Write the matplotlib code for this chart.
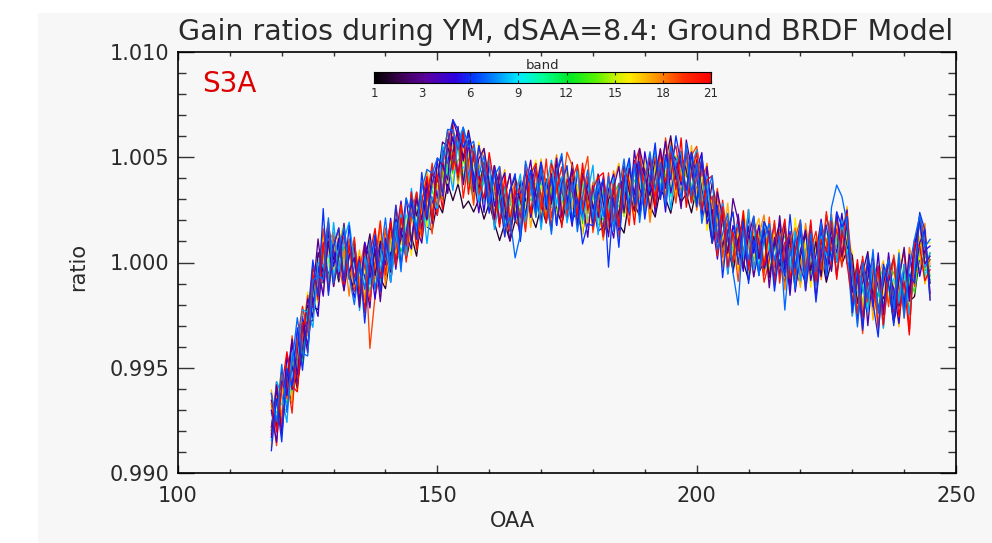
import numpy as np
import matplotlib
matplotlib.use("Agg")
import matplotlib.pyplot as plt
from matplotlib.colors import LinearSegmentedColormap
from matplotlib.patches import Rectangle
from matplotlib.ticker import MultipleLocator, FormatStrFormatter

# OAA sample positions (deg)
oaa = list(range(118, 246))

# Common gain-ratio shape, deviation from 1 in units of 1e-4
center = [
    -75, -71, -66, -60, -54, -47, -40, -30, -18, -8, 0, 2, 3, 2, 1, 0,
    -4, -10, -8, -4, -3, -1, 2, 5, 8, 10, 13, 16, 19, 22, 25, 28,
    32, 38, 44, 47, 47, 45, 42, 40, 38, 35, 33, 30, 28, 25, 23, 23,
    26, 29, 31, 31, 30, 30, 31, 32, 31, 30, 30, 29, 28, 28, 27, 26,
    25, 25, 26, 28, 30, 32, 34, 35, 35, 35, 36, 38, 40, 41, 41, 40,
    39, 38, 36, 33, 28, 22, 16, 12, 9, 8, 7, 7, 6, 6, 5, 5,
    4, 4, 3, 3, 2, 2, 1, 1, 1, 2, 3, 5, 7, 8, 9, 9,
    -11, -13, -13, -14, -13, -13, -12, -13, -14, -13, -12, -12, -5, 3, 1, -5,
]
center_unit = 1e-4

# Per-band departures from the common shape, in units of 1.6e-4
dev_unit = 1.6e-4
dev_01 = [
    -3, 5, -6, 2, -8, 1, -4, 6, -2, -9, 3, -5, 0, -7, 4, -3,
    -6, 2, -8, -1, 5, -4, -9, 0, -3, 3, -7, -2, -10, 1, -5, -8,
    -2, -9, -4, -11, -6, -12, -8, -10, -5, -9, -3, -7, -11, -4, -8, -2,
    -6, 1, -5, -9, -2, -7, 3, -4, -8, 0, -6, -3, -9, 2, -5, -1,
    -7, -3, 2, -6, -10, -1, -4, -8, 1, -5, -9, -2, -6, -11, -3, -7,
    -4, -9, 0, -6, -2, -8, 3, -5, -1, -7, 2, -4, -9, 1, -6, -3,
    4, -5, -1, -8, 2, -3, -7, 5, -2, -6, 1, -9, -4, 3, -6, -2,
    -5, 2, -8, -1, 4, -6, -3, 1, -9, -2, 5, -4, -7, 0, -3, 2,
]
dev_02 = [
    6, -4, 9, -2, 3, -8, 5, 1, -6, 8, -3, 10, -1, 4, -7, 2,
    9, -3, 5, 11, -2, 7, 1, -6, 8, 3, -4, 10, 2, 6, -3, 9,
    4, 12, 7, -1, 9, 3, 13, 6, -2, 8, 1, 10, 5, -3, 7, 11,
    2, -5, 8, 1, -7, 6, -2, 9, 3, -6, 11, 0, -4, 7, -1, 5,
    -8, 3, 6, -4, 10, 1, -6, 8, 4, -2, 9, -5, 5, 12, -1, 7,
    3, -6, 8, 1, -4, 10, 5, -3, 7, -8, 2, 9, -5, 4, -2, 6,
    -7, 3, 10, -4, 6, -9, 1, 8, -3, 5, -6, 11, 2, -5, 7, -1,
    9, -4, 5, 12, -2, 7, -8, 3, 10, -5, 6, -1, 8, 12, 4, -3,
]
dev_03 = [
    -5, 8, -10, 3, 11, -4, 7, -8, 2, 12, -6, 5, -9, 1, 9, -3,
    4, -7, 10, -2, 6, -11, 3, 8, -5, 1, 11, -4, 7, -1, 9, -6,
    11, 5, -3, 13, 8, 2, 10, -4, 7, 12, 3, -6, 9, 1, -8, 5,
    -9, 4, 11, -3, 7, 0, -10, 6, 12, -2, 5, -7, 9, 3, -5, 10,
    2, -8, 6, 11, -4, 8, -1, 12, 5, -6, 3, 10, -3, 7, 1, -9,
    12, 4, -5, 9, 2, -8, 11, 6, -3, 14, 8, -6, 4, 10, -2, 7,
    -10, 5, -3, 9, -8, 2, 11, -5, 7, -12, 4, 1, -7, 10, -4, 6,
    -2, 8, -11, 4, 10, -6, 1, 9, -9, 3, 12, -4, 7, 11, -1, 5,
]
dev_04 = [
    3, -9, 6, -2, 10, -7, -1, 8, -5, 4, -10, 7, 2, -6, 11, -3,
    -8, 5, 1, -11, 9, -4, 6, -9, 2, 12, -5, 8, -2, -8, 4, 10,
    -1, 7, -7, 3, 11, -5, 9, 1, -9, 6, -3, 10, -6, 4, 12, -2,
    8, -4, 2, 10, -8, 5, -1, 11, -6, 3, 9, -7, 1, -10, 6, -3,
    10, -2, -9, 4, 7, -6, 12, 0, -4, 9, -8, 3, 11, -5, 2, 8,
    -6, 9, 3, -7, 11, -1, -9, 6, 2, -5, 10, -3, 7, -8, 1, 9,
    5, -8, 12, -3, 8, -10, 3, 9, -6, 1, 11, -4, 6, -9, 2, 10,
    -7, 3, 9, -10, 6, 1, -8, 11, -3, 7, -5, 10, -2, 4, 9, -6,
]
dev_05 = [
    -2, 7, -8, 10, -4, 3, 9, -6, 1, -11, 5, 8, -3, 6, -9, 2,
    7, -5, 11, 3, -9, 6, -2, 10, -7, 4, 0, -6, 9, -4, 7, 1,
    -6, 10, 2, 8, -4, 12, -1, 7, 3, -7, 9, -2, 5, 11, -5, 6,
    4, 9, -6, 2, 11, -3, 7, -9, 5, 1, -8, 10, -4, 6, 0, -7,
    -5, 6, 10, -8, 3, -3, 9, -7, 11, 2, -6, 4, -10, 7, 5, -2,
    8, -3, 5, 12, -6, 2, -4, 9, -9, 6, 1, -7, 10, -1, 8, -5,
    1, 9, -6, 4, -11, 7, -2, -7, 10, -4, 8, -8, 3, -2, 9, -6,
    6, -9, 2, 8, -5, 11, -7, 4, 1, -10, 7, -3, 10, -6, 3, 8,
]
dev_06 = [
    -9, 4, -12, 6, -3, 10, -7, 2, 12, -5, 16, -11, 3, 9, -6, 11,
    -4, 7, -13, 2, 10, -8, 5, -3, 12, -7, 1, 9, -5, 13, -2, 6,
    10, -4, 8, 13, 10, 6, 12, -2, 11, 4, -6, 9, 2, -8, 7, 12,
    -10, 3, 8, -5, 11, -2, 6, -9, 4, 10, -7, 1, -12, -6, -6, 5,
    9, -17, 3, -13, 6, 11, -4, 8, -9, 2, 13, -5, 7, -1, 12, 4,
    -3, 9, -6, 11, 2, -8, 7, -12, 4, 10, -5, 8, -10, 3, -7, 9,
    6, -11, 2, -6, 13, -3, 9, -9, 5, -13, 1, 8, -4, 10, 5, 8,
    -8, 5, -12, 11, -4, -14, 7, 2, -10, 9, -6, 4, -3, 13, 9, -8,
]
dev_07 = [
    8, -3, 11, -7, 4, 13, -2, -9, 6, 1, -5, 12, -8, 3, 10, -4,
    -10, 6, -3, 9, -6, 2, 12, -5, 7, -9, 11, 4, -1, 8, 12, 9,
    11, 6, 12, 10, 4, 12, 8, 11, 2, 10, -3, 7, 11, -5, -1, -13,
    -8, 12, 4, -6, 9, 1, -11, 7, 13, -3, 5, -9, 2, 10, -4, 8,
    -2, 10, -7, 4, 12, -5, 8, -10, 3, 11, -1, 6, -8, 9, 2, -6,
    11, -4, 7, -9, 3, 12, -6, 1, 9, -8, -17, 5, -3, 10, -7, 4,
    9, -2, 6, -16, 3, -9, 12, -6, 8, -4, 10, -7, 12, 18, 14, 6,
    4, -11, 8, -2, 12, -7, 3, 9, -5, 11, -9, 6, 10, 12, 4, 10,
]
dev_08 = [
    -6, 9, 2, -10, 7, -3, 11, 4, -8, 5, -1, -7, 10, -4, 6, 12,
    3, -8, 7, -4, 11, -2, 5, -9, 1, 8, -6, 12, -3, 6, -10, 2,
    -4, 11, 3, -8, 7, 12, -2, 9, -6, 4, 10, -9, 1, 7, -3, 5,
    10, -6, 2, 8, -9, 4, 11, -3, 6, -7, 1, 9, -5, 3, 12, -8,
    5, -1, 9, -7, 2, 10, -4, 7, -8, 3, 11, -2, 6, -10, 4, 8,
    -7, 5, 11, -2, 8, -5, 1, 10, -9, 4, 7, -3, 12, -6, 2, 9,
    3, -9, 5, 10, -4, 8, -6, 2, 11, -8, 6, -1, 9, -5, 7, -3,
    -9, 6, 1, -6, 8, 3, -12, 5, 10, -4, 7, -8, 2, 11, -2, 6,
]
dev_09 = [
    2, -4, 5, -1, 3, -6, 4, 0, -3, 6, -2, 1, -5, 3, -1, 4,
    -3, 5, -2, 4, -6, 1, 3, -4, 6, -1, 2, -5, 4, 0, -3, 5,
    1, -4, 3, 6, -2, 0, 4, -5, 2, -3, 5, -1, 3, -4, 6, -2,
    4, -2, 5, -5, 1, 3, -3, 6, -1, 2, -6, 4, 0, -2, 5, -4,
    -1, 3, -4, 5, 2, -3, 6, -2, 1, -5, 4, 0, -3, 5, -1, 2,
    5, -3, 1, 4, -5, 2, -1, 6, -4, 3, 0, -2, 5, -6, 2, 4,
    -2, 4, -5, 1, 3, -3, 6, -1, 2, -4, 5, 0, -6, 3, 1, -3,
    3, -1, 4, -6, 2, 5, -2, 0, 4, -3, 6, -5, 1, 3, -4, 2,
]
dev_10 = [
    -4, 3, -1, 6, -5, 2, 4, -3, 1, -6, 5, -2, 3, 0, -4, 6,
    5, -2, 4, -6, 1, 3, -1, 5, -4, 2, 6, -3, 0, 4, -5, 1,
    -3, 6, -2, 1, 4, -5, 3, 0, -4, 5, -1, 2, -6, 4, 1, -2,
    2, -5, 3, 4, -1, 6, -3, 1, 5, -4, 2, -2, 6, -5, 0, 3,
    4, 1, -5, 2, 6, -2, 0, -4, 3, 5, -3, 1, 4, -6, 2, -1,
    -5, 3, 2, -3, 5, 0, -4, 4, 1, -2, 6, -5, 3, 2, -4, 5,
    1, -6, 4, 2, -2, 5, -5, 3, 0, 6, -3, 2, 4, -4, 1, -2,
    6, 2, -4, 3, -1, 4, -6, 5, -2, 1, 3, -3, 5, 0, -5, 4,
]
dev_11 = [
    3, 0, -5, 2, 6, -3, -1, 5, -4, 2, 4, -6, 1, 3, -2, -5,
    -1, 4, 6, -3, 2, -5, 5, 1, -2, -6, 3, 4, -4, 2, 6, -3,
    5, -2, 1, 4, -6, 3, -3, 6, 0, -4, 2, 5, -1, -5, 3, 1,
    -6, 4, -1, 2, 5, -4, 1, -2, 6, 3, -5, 0, 4, -3, 2, 6,
    2, -5, 3, -1, 4, 6, -3, 2, -6, 1, 5, -2, 0, 3, -4, 5,
    -2, 6, -4, 5, 1, -3, 3, -6, 4, 2, -1, 5, -5, 0, 6, -3,
    4, -1, 2, -5, 6, 0, -4, 4, -2, 3, -6, 1, 5, -3, 2, 6,
    -5, 3, 5, 1, -4, 2, 6, -3, 0, 4, -2, -6, 3, 5, -1, -2,
]
dev_12 = [
    -2, 5, 1, -4, 3, 6, -5, 2, 4, -1, -6, 3, 5, -3, 1, 2,
    6, -4, 1, 3, -2, 5, -6, 2, 4, -3, 0, 6, -1, -5, 3, 4,
    -4, 2, 6, -3, 1, 4, -2, -6, 5, 3, -1, 0, 4, 6, -5, 2,
    3, 5, -4, 1, -2, 6, 2, -5, 0, 4, -3, 5, -6, 1, 3, -1,
    -3, 1, 4, 6, -5, 0, 3, 5, -2, -4, 6, 2, -1, 4, -6, 3,
    4, -2, -6, 2, 3, 5, -4, 0, 6, -1, 3, -5, 2, 4, 1, -6,
    -1, 5, 3, -4, -2, 4, 1, -3, 6, -5, 2, 4, -2, 0, 5, 3,
    2, -6, 0, 5, 3, -2, 4, 1, -5, 6, -3, 2, 5, -4, 1, 4,
]
dev_13 = [
    5, 2, -3, -6, 4, 1, 3, -2, 6, -4, 2, 5, -5, 0, 4, -3,
    -2, 3, 5, -4, -1, 6, 2, -3, 4, 1, -5, 3, 6, -2, 0, 5,
    3, -5, 2, 0, 5, -3, 6, 1, -4, 2, 4, -6, 3, -1, 5, 4,
    -1, 4, 6, -3, 2, -5, 4, 3, -2, 5, 1, -4, 6, 2, -6, 0,
    6, -4, 1, 3, -2, 5, -1, -5, 4, 2, -3, 6, 1, -4, 3, 5,
    1, 3, -5, 4, 6, -2, 5, -3, 2, -6, 4, 0, -3, 5, -1, 3,
    -5, 2, 4, 6, -3, 1, -2, 5, -4, 3, 6, -5, 2, 4, -3, 1,
    4, -3, 2, -4, 5, 1, -5, 3, 6, -2, 0, 4, -6, 2, 5, -1,
]
dev_14 = [
    -3, 6, 4, -2, -5, 3, 1, 5, -4, 2, 6, -1, 0, -6, 3, 5,
    2, 0, -5, 6, 3, -4, 4, 1, -6, 5, 2, -2, 3, 5, -4, -1,
    6, 3, -1, 5, -4, 2, 5, -3, 1, 6, -5, 4, 2, 0, -3, 6,
    1, -3, 5, 4, -6, 0, 3, 5, -4, 2, 6, -1, -3, 4, 1, -5,
    -4, 5, 2, -6, 1, 4, -3, 6, 2, -1, 0, 5, -5, 3, 6, -2,
    3, -1, 6, 0, -4, 5, 2, -5, 3, 4, -2, 6, 1, -3, 4, -4,
    5, 3, -2, 1, 4, -6, 3, 0, 5, -2, -4, 3, 6, 1, -5, 4,
    -2, 4, 6, -1, -3, 5, 2, -4, 3, 0, 5, -6, 4, 2, -3, 6,
]
dev_15 = [
    4, -2, 3, 5, -1, -4, 6, -3, 2, 4, -5, 1, 6, -2, 0, 3,
    -5, 2, 4, 0, -3, 5, 1, 6, -2, 3, -4, 5, 2, -6, 4, 1,
    2, 5, -4, 3, 6, -1, 2, 4, -3, 5, 0, -2, 6, 3, -4, 1,
    5, -1, 2, -6, 4, 3, -2, 5, 1, -4, 6, 2, -3, 0, 5, -2,
    1, 6, -3, 4, -5, 2, 5, -1, 3, 6, -4, 0, 2, 5, -3, 4,
    -3, 4, 1, 5, 2, -6, 3, 6, -1, 0, 4, -4, 5, 2, -2, 6,
    2, -4, 6, -1, 5, 3, -3, 1, 4, -5, 2, 6, 0, -2, 4, -1,
    5, 1, -3, 4, 2, -5, 6, -1, 3, 4, -4, 1, 2, 6, 0, -3,
]
dev_16 = [
    -7, 4, 9, -3, 6, -9, 2, 10, -5, 3, 8, -2, -8, 5, 11, -4,
    6, -6, 2, 10, -4, 8, -7, 3, 11, -1, 5, -8, 9, 1, -5, 7,
    -2, 9, 4, -6, 10, 2, 7, -4, 12, 5, -3, 8, 1, -7, 6, 3,
    9, -3, 6, 11, -5, 2, 8, -7, 4, 10, -2, 5, -9, 7, 1, -4,
    -6, 8, 1, -3, 10, 5, -8, 3, 9, -5, 7, -1, 11, 2, -6, 6,
    7, -5, 10, 3, -8, 6, 1, 9, -4, 2, -7, 11, 4, -2, 8, -6,
    -3, 7, 2, 9, -6, 12, -1, 5, -8, 3, 10, -4, 6, 8, -5, 2,
    10, -4, 6, -8, 3, 9, -2, 7, -6, 12, 1, -5, 8, -1, 5, 9,
]
dev_17 = [
    9, -5, 2, 7, -8, 4, 11, -1, 6, -7, 3, 9, -4, 8, -2, 5,
    -3, 10, -7, 5, 1, -9, 8, 3, -5, 11, -2, 6, -8, 4, 12, -1,
    7, -3, 11, 5, -6, 12, 3, 9, -2, 6, 10, -5, 4, 12, -1, 8,
    -5, 6, -9, 3, 12, -1, 7, 2, -6, 9, -3, 11, 4, -7, 5, 10,
    3, -7, 8, 12, -2, 6, -5, 10, 1, -8, 4, 9, -3, 7, -6, 2,
    -4, 11, -2, 7, 4, -6, 9, -1, 12, -5, 3, 8, -7, 5, 10, -3,
    8, -6, 12, -3, 6, 1, -8, 10, 3, -5, 9, -2, 7, -9, 4, 11,
    -1, 7, -6, 10, -9, 4, 8, -4, 2, -11, 6, -3, 9, 5, -7, 3,
]
dev_18 = [
    -8, 6, -4, 10, 2, -6, 8, -3, 11, 1, -9, 5, 7, -5, 3, -10,
    8, 1, -6, 9, -3, 12, -8, 5, -1, 7, -4, 10, 3, -7, 6, -2,
    -5, 8, 2, 11, -3, 6, 9, -7, 4, 12, 1, -4, 8, -8, 3, 10,
    6, -8, 3, -2, 9, -6, 5, 12, -4, 1, 8, -7, 10, -3, 7, 2,
    -9, 4, 11, -5, 7, 1, 9, -3, 6, -10, 2, 8, -6, 11, 3, -4,
    5, 9, -7, 2, 12, -4, 6, -9, 3, 10, -2, 7, 1, -8, 5, 11,
    -6, 2, 8, -10, 4, 9, -5, 11, -3, 6, -7, 2, 10, -4, 8, -1,
    7, -10, 3, 9, -6, 5, -12, 10, -2, 6, -9, 12, 1, -5, 11, -7,
]
dev_19 = [
    5, -10, 8, -3, 12, -7, 3, 9, -5, 1, 10, -8, 6, -2, -9, 7,
    -6, 4, 11, -23, -8, -3, 9, -5, 12, 2, -7, 8, -4, 10, 1, -9,
    10, -2, 7, 12, -5, 9, 3, -8, 11, 6, -3, 10, -6, 4, 12, -1,
    -7, 9, 2, -4, 11, 5, -9, 8, 1, 14, 10, -3, 7, 14, -8, 3,
    9, -5, 6, -10, 3, 8, -2, 11, -7, 4, 9, -4, 12, 1, -8, 6,
    -3, 8, 12, 5, 11, -1, 12, -6, 7, 3, -10, 6, -4, 9, 2, -7,
    11, -4, 7, 1, -9, 6, 12, -2, 5, -8, 10, 3, -6, 8, -3, 9,
    -9, 4, -13, 8, 2, -10, 6, -5, 11, 1, -7, 9, -4, 12, 7, -8,
]
dev_20 = [
    -4, 9, -7, 3, -11, 6, 12, -2, 8, -6, 4, 11, -9, 2, 7, -5,
    10, -3, 6, -9, 2, 13, -5, 8, -1, 11, -8, 4, 9, -6, 3, 12,
    -6, 5, 12, -2, 9, -9, 4, 10, -4, 7, 1, -8, 11, 3, -5, 9,
    4, -9, 7, 10, -3, 12, -6, 2, 9, -5, 6, 11, -2, 8, -7, 1,
    -8, 11, -4, 6, 2, -9, 8, 12, -5, 3, -3, 10, -7, 5, 9, -1,
    9, -6, 3, 10, -2, 6, -8, 11, 1, -5, 8, -2, 12, -6, 4, -9,
    -2, 10, -8, 4, 7, -5, 11, -9, 3, 8, -4, 12, -1, 5, -7, 9,
    5, -7, 10, -3, 8, -12, 2, 9, -6, 4, 11, -13, 6, 10, -2, 4,
]
dev_21 = [
    8, -6, 4, 11, -3, -9, 7, 1, 10, -4, 6, -10, 3, 9, -7, 5,
    -2, 8, -10, 5, 12, -4, 2, 9, -6, 7, -3, 11, -8, 4, 10, -5,
    6, -8, 9, 3, -4, 11, -6, 8, 1, -3, 12, 4, -7, 10, -2, 7,
    -3, 11, -5, 8, 1, -7, 10, 4, -9, 6, 2, -4, 12, -2, 5, 9,
    11, -3, 7, -7, 9, 4, -10, 6, 2, 10, -6, 5, -1, 8, -4, 12,
    -8, 3, 10, -5, 7, 12, -3, 9, -7, 4, -1, 11, -6, 8, 3, -4,
    7, -9, 3, 11, -6, 2, 9, -4, 12, -7, 5, 0, 8, -10, 4, -6,
    -5, 9, -8, 3, -3, 7, -11, 4, 10, -8, 2, -14, 9, 3, -6, 1,
]

band_devs = {1: dev_01, 2: dev_02, 3: dev_03, 4: dev_04, 5: dev_05,
             6: dev_06, 7: dev_07, 8: dev_08, 9: dev_09, 10: dev_10,
             11: dev_11, 12: dev_12, 13: dev_13, 14: dev_14, 15: dev_15,
             16: dev_16, 17: dev_17, 18: dev_18, 19: dev_19, 20: dev_20,
             21: dev_21}
# Drawing order: quiet mid-spectrum bands underneath, the noisier ones on top
draw_order = [1, 11, 12, 13, 14, 15, 10, 9, 16, 17, 18, 2, 19, 5, 4, 20,
              8, 3, 21, 6, 7]
cbar_labels = ["1", "3", "6", "9", "12", "15", "18", "21"]

title = "Gain ratios during YM, dSAA=8.4: Ground BRDF Model"
sat_label = "S3A"

# Rainbow table running black -> purple -> blue -> cyan -> green -> yellow -> red
rainbow = LinearSegmentedColormap.from_list("rainbow_black", [
    (0.00, (0.00, 0.00, 0.00)),
    (0.08, (0.24, 0.00, 0.33)),
    (0.15, (0.36, 0.00, 0.62)),
    (0.24, (0.18, 0.00, 0.88)),
    (0.30, (0.00, 0.25, 1.00)),
    (0.36, (0.00, 0.55, 1.00)),
    (0.43, (0.00, 0.93, 1.00)),
    (0.50, (0.00, 1.00, 0.60)),
    (0.58, (0.00, 0.92, 0.15)),
    (0.66, (0.35, 0.95, 0.00)),
    (0.72, (0.80, 0.95, 0.00)),
    (0.76, (1.00, 0.93, 0.00)),
    (0.84, (1.00, 0.58, 0.00)),
    (0.92, (1.00, 0.18, 0.00)),
    (1.00, (1.00, 0.00, 0.00)),
])

W, H = 992, 543
bg = "#f7f7f7"
ink = "#2a2a2a"
fig = plt.figure(figsize=(W / 100, H / 100), dpi=100)
fig.patch.set_facecolor("white")
fig.patches.append(Rectangle((38 / W, 0), 1 - 38 / W, 1 - 13 / H,
                             transform=fig.transFigure, facecolor=bg,
                             edgecolor="none", zorder=-10))

font = "DejaVu Sans"
ax = fig.add_axes([178 / W, 1 - 473 / H, (956 - 178) / W, (473 - 52) / H])
ax.set_facecolor(bg)

x = np.array(oaa, dtype=float)
base = np.array(center, dtype=float) * center_unit
for b in draw_order:
    ratio = 1.0 + base + np.array(band_devs[b], dtype=float) * dev_unit
    ax.plot(x, ratio, color=rainbow(b / 21.0), lw=0.95)

ax.set_xlim(100, 250)
ax.set_ylim(0.990, 1.010)
ax.xaxis.set_major_locator(MultipleLocator(50))
ax.xaxis.set_minor_locator(MultipleLocator(10))
ax.yaxis.set_major_locator(MultipleLocator(0.005))
ax.yaxis.set_minor_locator(MultipleLocator(0.001))
ax.yaxis.set_major_formatter(FormatStrFormatter("%.3f"))
ax.tick_params(which="both", direction="in", top=True, right=True,
               color="#333333", width=1.0, labelsize=15, labelcolor=ink)
ax.tick_params(axis="x", which="major", length=6.0, pad=9)
ax.tick_params(axis="x", which="minor", length=3.0)
ax.tick_params(axis="y", which="major", length=11.2, pad=6)
ax.tick_params(axis="y", which="minor", length=5.6)
for lab in ax.get_xticklabels() + ax.get_yticklabels():
    lab.set_family(font)
for sp in ax.spines.values():
    sp.set_linewidth(1.2)
    sp.set_color("black")

ax.set_xlabel("OAA", fontsize=15, family=font, color=ink)
ax.set_ylabel("ratio", fontsize=15, family=font, color=ink)
ax.xaxis.set_label_coords((512 - 178) / (956 - 178), -(521 - 473) / 421)
ax.xaxis.label.set_va("center")
ax.yaxis.set_label_coords(-(178 - 78) / 778, (473 - 267) / 421)
ax.yaxis.label.set_va("center")

fig.text(566 / W, 1 - 32 / H, title, ha="center", va="center",
         fontsize=20.5, family=font, color=ink)
ax.text((202 - 178) / 778, 1 - (84 - 52) / 421, sat_label,
        transform=ax.transAxes, ha="left", va="center",
        fontsize=20, family=font, color="#dd0000")

# Band colour bar
cax = fig.add_axes([374 / W, 1 - 83 / H, (711 - 374) / W, 11 / H])
cax.imshow(np.linspace(0, 1, 512)[None, :], aspect="auto", cmap=rainbow,
           extent=(0, len(cbar_labels) - 1, 0, 1))
cax.set_xlim(0, len(cbar_labels) - 1)
cax.set_ylim(0, 1)
cax.set_yticks([])
cax.set_xticks(range(len(cbar_labels)))
cax.set_xticklabels(cbar_labels, family=font, fontsize=8.5, color=ink)
cax.tick_params(axis="x", direction="in", length=2.5, width=0.8, top=True,
                pad=3, color="#222222")
for sp in cax.spines.values():
    sp.set_linewidth(0.8)
cax.set_title("band", fontsize=9.5, family=font, color=ink, pad=2.5)

fig.savefig("out.png", dpi=100, facecolor=fig.get_facecolor())
